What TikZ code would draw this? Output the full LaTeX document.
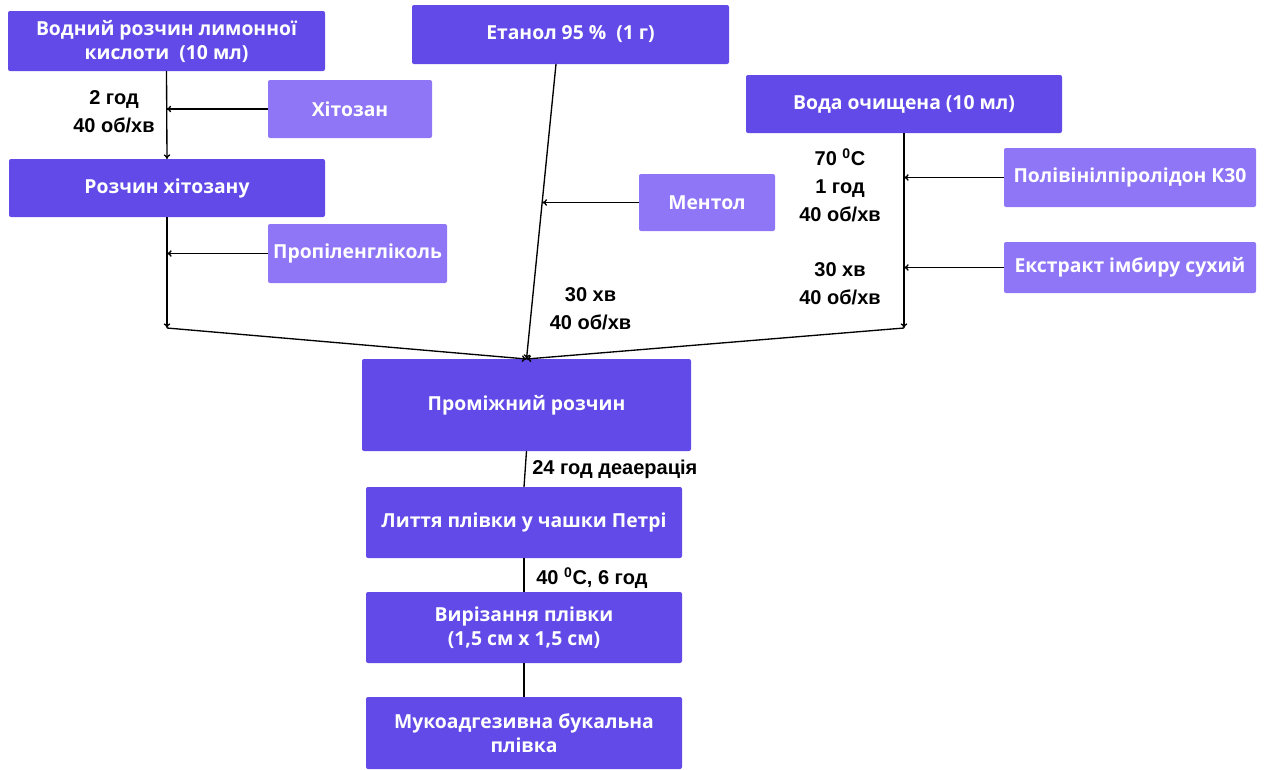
\documentclass[tikz,border=0pt]{standalone}
\usepackage{fontspec}
\setmainfont{Open Sans}
\newfontfamily\lblfont{Liberation Sans}
\usetikzlibrary{arrows.meta}
\definecolor{dk}{HTML}{624AE8}
\definecolor{lt}{HTML}{8E76F7}
\tikzset{
  box/.style={rectangle, rounded corners=1.5pt, inner sep=0pt, outer sep=0pt, align=center,
    text=white, font=\fontsize{14.5}{18}\selectfont\bfseries},
  dkbox/.style={box, fill=dk},
  ltbox/.style={box, fill=lt},
  lbl/.style={font=\lblfont\fontsize{15}{21}\selectfont\bfseries, align=center, inner sep=0pt},
  conn/.style={line width=1pt, black},
  arr/.style={conn, -{To[length=3.5pt,width=5pt]}},
}
\begin{document}
\begin{tikzpicture}[x=0.75pt,y=-0.75pt]
\useasboundingbox (0,0) rectangle (1268,769);
% boxes
\node[dkbox, minimum width=237.75pt, minimum height=45pt] (A) at (166.5,41) {Водний розчин лимонної\\кислоти\ \ (10 мл)};
\node[ltbox, minimum width=123pt, minimum height=43.5pt] (X) at (350,109) {Хітозан};
\node[dkbox, minimum width=237pt, minimum height=43.5pt] (R) at (167,188) {Розчин хітозану};
\node[ltbox, minimum width=134.25pt, minimum height=44.25pt] (P) at (357.5,253.5) {Пропіленгліколь};
\node[dkbox, minimum width=237.75pt, minimum height=44.25pt] (E) at (570.5,34.5) {Етанол 95 \%\ \ (1 г)};
\node[ltbox, minimum width=102pt, minimum height=42.75pt] (Men) at (707,202.5) {Ментол};
\node[dkbox, minimum width=237pt, minimum height=43.5pt] (W) at (904,104) {Вода очищена (10 мл)};
\node[ltbox, minimum width=189pt, minimum height=44.25pt] (PVP) at (1130,177.5) {Полівінілпіролідон К30};
\node[ltbox, minimum width=189pt, minimum height=38.25pt] (Ext) at (1130,267.5) {Екстракт імбиру сухий};
\node[dkbox, minimum width=246.75pt, minimum height=69pt] (Mid) at (526.5,405) {Проміжний розчин};
\node[dkbox, minimum width=237pt, minimum height=53.25pt] (Cast) at (524,522.5) {Лиття плівки у чашки Петрі};
\node[dkbox, minimum width=237pt, minimum height=53.25pt] (Cut) at (524,627.5) {Вирізання плівки\\(1,5 см х 1,5 см)};
\node[dkbox, minimum width=237pt, minimum height=54pt] (Fin) at (524,733) {Мукоадгезивна букальна\\плівка};
% junction coordinates
\coordinate (jL) at (167,328);
\coordinate (jR) at (904,328);
\coordinate (eS) at (556,64);
\coordinate (eM) at (542.4,202.5);
% connectors
\draw[arr] (A.south) -- (R.north);
\draw[arr] (X.west) -- (X.west -| A.south);
\draw[arr] (R.south) -- (jL);
\draw[arr] (P.west) -- (P.west -| R.south);
\draw[arr] (jL) -- (Mid.north);
\draw[arr] (eS) -- (Mid.north);
\draw[arr] (Men.west) -- (eM);
\draw[arr] (W.south) -- (jR);
\draw[arr] (PVP.west) -- (PVP.west -| W.south);
\draw[arr] (Ext.west) -- (Ext.west -| W.south);
\draw[arr] (jR) -- (Mid.north);
\draw[conn] (Mid.south) -- (Cast.north);
\draw[conn] (Cast.south) -- (Cut.north);
\draw[conn] (Cut.south) -- (Fin.north);
% labels
\node[lbl] (l1) at (114,111.5) {2 год\\40 об/хв};
\node[lbl] (l2) at (590.5,308.5) {30 хв\\40 об/хв};
\node[lbl] (l3) at (840,185.5) {70 \textsuperscript{0}C\\1 год\\40 об/хв};
\node[lbl] (l4) at (840,284) {30 хв\\40 об/хв};
\node[lbl, anchor=west] (l5) at (532,469) {24 год деаерація};
\node[lbl, anchor=west] (l6) at (536,578) {40 \textsuperscript{0}C, 6 год};
\end{tikzpicture}
\end{document}
